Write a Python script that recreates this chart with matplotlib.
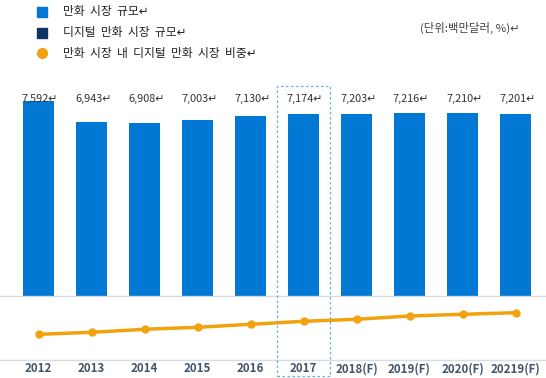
import matplotlib
matplotlib.use('Agg')
import matplotlib.pyplot as plt
import matplotlib.transforms as mtransforms
from matplotlib.patches import Rectangle
from matplotlib.lines import Line2D

plt.rcParams['font.family'] = ['Noto Sans CJK KR', 'DejaVu Sans']

years = ['2012', '2013', '2014', '2015', '2016', '2017', '2018(F)', '2019(F)', '2020(F)', '20219(F)']
market = [7592, 6943, 6908, 7003, 7130, 7174, 7203, 7216, 7210, 7201]
digital_share = [7.97, 8.59, 9.52, 10.14, 11.07, 12.0, 12.62, 13.64, 14.17, 14.67]
legend_labels = ['만화  시장  규모↵', '디지털  만화  시장  규모↵', '만화  시장  내  디지털  만화  시장  비중↵']
unit_label = '(단위:백만달러, %)↵'

blue = '#0078D4'
navy = '#0B3463'
orange = '#F2A20C'

W, H = 546, 378
fig = plt.figure(figsize=(W / 100, H / 100), dpi=100)

x = list(range(len(years)))
xlim = (-38.5 / 53, (W - 38.5) / 53)

# 위쪽: 막대
ax = fig.add_axes([0, (H - 295.5) / H, 1, 235.5 / H])
ax.bar(x, market, width=0.575, color=blue, zorder=2)
ax.set_xlim(xlim)
ax.set_ylim(1762, 1762 + 235.5 * 29.9)
ax.axis('off')
trans = mtransforms.blended_transform_factory(ax.transData, ax.transAxes)
for i, v in enumerate(market):
    ax.text(i + 0.03, (295.5 - 99) / 235.5, f'{v:,}↵', transform=trans,
            ha='center', va='center', fontsize=7.8, color='#333333')

# 아래쪽: 비중 선
ax2 = fig.add_axes([0, (H - 360) / H, 1, 64.5 / H])
ax2.plot(x, digital_share, color=orange, lw=2.5, marker='o', ms=5, zorder=3)
ax2.set_xlim(xlim)
ax2.set_ylim(0, 20)
ax2.set_yticks([])
ax2.set_xticks(x)
ax2.set_xticklabels(years, fontsize=8.3, fontweight='bold', color='#44546A')
ax2.tick_params(axis='x', length=0, pad=1.5)
for s in ['left', 'right']:
    ax2.spines[s].set_visible(False)
for s in ['top', 'bottom']:
    ax2.spines[s].set_color('#D6DCE5')
    ax2.spines[s].set_linewidth(1)
ax2.patch.set_alpha(0)

# 2017 강조 점선 박스
fig.add_artist(Rectangle((277 / W, (H - 376) / H), 53 / W, 290 / H,
                         transform=fig.transFigure, fill=False,
                         ls=(0, (2, 2)), ec='#5DB3F0', lw=0.9))

# 범례
legend_y = [12, 32.5, 53]
markers = [('s', blue), ('s', navy), ('o', orange)]
for (m, c), lab, yy in zip(markers, legend_labels, legend_y):
    fig.add_artist(Line2D([42 / W], [(H - yy) / H], marker=m, color=c, ms=7,
                          ls='none', transform=fig.transFigure))
    fig.text(63 / W, (H - yy) / H, lab, ha='left', va='center',
             fontsize=8.5, color='#222222')

fig.text(420 / W, (H - 28) / H, unit_label, ha='left', va='center',
         fontsize=8.2, color='#404040')

fig.savefig('out.png', dpi=100)
